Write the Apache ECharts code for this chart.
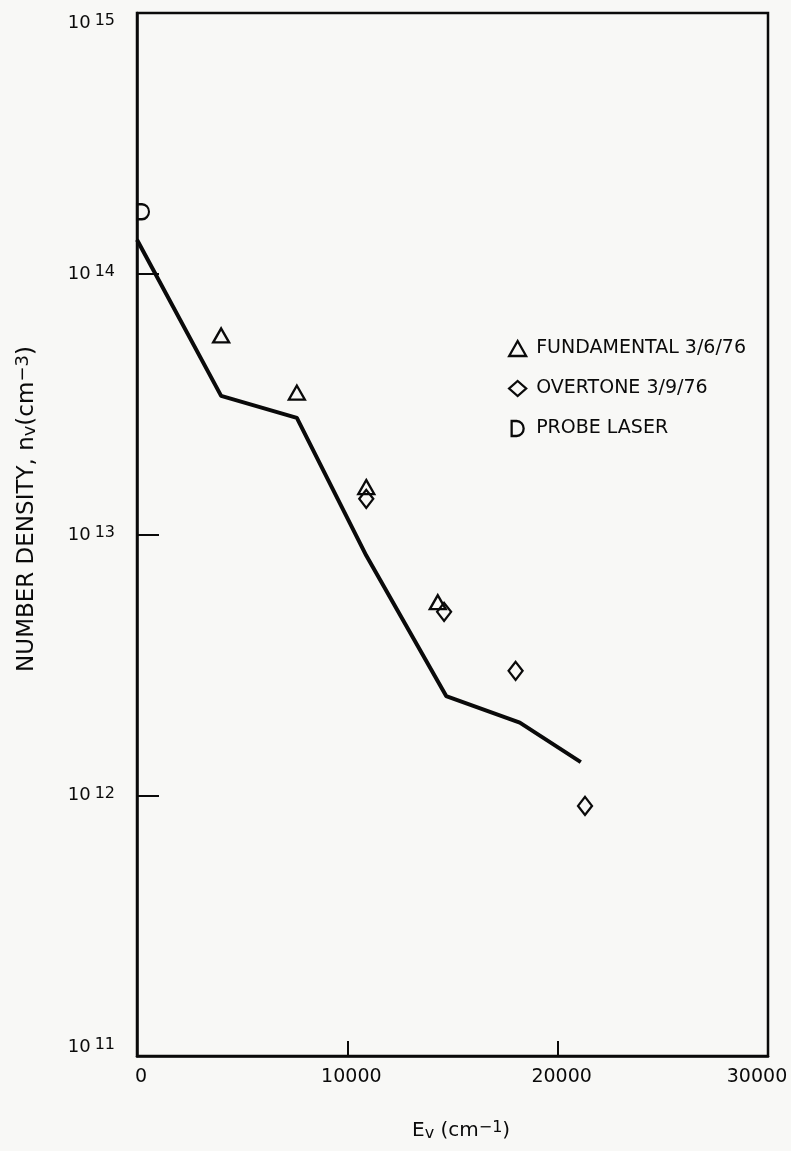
<!DOCTYPE html>
<html>
<head>
<meta charset="utf-8">
<style>
  html, body { margin: 0; padding: 0; background: #f8f8f6; }
  #chart { width: 791px; height: 1151px; }
</style>
<script src="https://cdn.jsdelivr.net/npm/echarts@6/dist/echarts.min.js"></script>
</head>
<body>
<div id="chart"></div>
<script>
// Vibrational level energy E_v (cm^-1) and number density n_v (cm^-3)
const modelEnergy  = [0, 4000, 7600, 10900, 14700, 18200, 21100];
const modelDensity = [1.35e14, 3.4e13, 2.8e13, 8.3e12, 2.4e12, 1.9e12, 1.34e12];

const fundamentalEnergy  = [4000, 7600, 10900, 14300];
const fundamentalDensity = [5.8e13, 3.5e13, 1.52e13, 5.5e12];

const overtoneEnergy  = [10900, 14600, 18000, 21300];
const overtoneDensity = [1.37e13, 5.05e12, 3.0e12, 9.1e11];

const probeEnergy  = [0];
const probeDensity = [1.73e14];

const xTicks = [0, 10000, 20000, 30000];
const seriesNames = ['FUNDAMENTAL 3/6/76', 'OVERTONE 3/9/76', 'PROBE LASER'];

const INK = '#0a0a0a';
const FONT = 'DejaVu Sans';
const D_SYMBOL = 'path://M0,0 L5,0 A7,7.5 0 0 1 5,15 L0,15 Z';

const pairs = (xs, ys) => xs.map((x, i) => [x, ys[i]]);

const markerStyle = { color: 'rgba(0,0,0,0)', borderColor: INK, borderWidth: 2.3, opacity: 1 };

const chart = echarts.init(document.getElementById('chart'));

chart.setOption({
  backgroundColor: '#f8f8f6',
  animation: false,
  grid: {
    left: 137, right: 23, top: 13, bottom: 95,
    show: true, borderColor: INK, borderWidth: 2.5,
    containLabel: false, outerBoundsMode: 'none'
  },
  legend: {
    orient: 'vertical',
    left: 503, top: 334,
    itemWidth: 17, itemHeight: 15, itemGap: 21,
    textStyle: { color: INK, fontFamily: FONT, fontSize: 19, lineHeight: 15, padding: [0, 0, 0, 5] },
    data: [
      { name: seriesNames[0], icon: 'triangle', itemStyle: markerStyle },
      { name: seriesNames[1], icon: 'diamond', itemStyle: markerStyle },
      { name: seriesNames[2], icon: D_SYMBOL, itemStyle: markerStyle }
    ]
  },
  xAxis: {
    type: 'value',
    min: xTicks[0], max: xTicks[xTicks.length - 1], interval: 10000,
    splitLine: { show: false },
    axisLine: { show: true, lineStyle: { color: INK, width: 2.5 } },
    axisTick: { show: true, inside: true, length: 15, lineStyle: { color: INK, width: 2 } },
    axisLabel: {
      color: INK, fontFamily: FONT, fontSize: 19, margin: 12,
      showMinLabel: true, showMaxLabel: true,
      formatter: v => (v === xTicks[xTicks.length - 1] ? '{r|' + v + '}' : '{c|' + v + '}'),
      rich: {
        c: { color: INK, fontFamily: FONT, fontSize: 19, padding: [0, 0, 0, 8] },
        r: { color: INK, fontFamily: FONT, fontSize: 19, padding: [0, 22, 0, 0] }
      }
    }
  },
  yAxis: {
    type: 'log', logBase: 10, min: 1e11, max: 1e15,
    splitLine: { show: false },
    minorTick: { show: false },
    axisLine: { show: true, lineStyle: { color: INK, width: 2.5 } },
    axisTick: { show: true, inside: true, length: 22, lineStyle: { color: INK, width: 2 } },
    axisLabel: {
      margin: 22,
      showMinLabel: true, showMaxLabel: true,
      verticalAlignMinLabel: 'bottom',
      verticalAlignMaxLabel: 'top',
      formatter: v => '{b|10}{s|' + Math.round(Math.log10(v)) + '}',
      rich: {
        b: { color: INK, fontFamily: FONT, fontSize: 18, lineHeight: 19, verticalAlign: 'bottom' },
        s: { color: INK, fontFamily: FONT, fontSize: 16, lineHeight: 16, verticalAlign: 'top', padding: [0, 0, 9, 4] }
      }
    }
  },
  graphic: [
    {
      type: 'text',
      x: 27, y: 509, rotation: Math.PI / 2,
      style: {
        text: '{a|NUMBER DENSITY, n}{sub|v}{a|(cm}{sup|−3}{a|)}',
        align: 'center', verticalAlign: 'middle',
        rich: {
          a: { fill: INK, fontFamily: FONT, fontSize: 23, lineHeight: 25, verticalAlign: 'middle' },
          sub: { fill: INK, fontFamily: FONT, fontSize: 18, lineHeight: 18, verticalAlign: 'bottom', padding: [9, 0, 0, 0] },
          sup: { fill: INK, fontFamily: FONT, fontSize: 18, lineHeight: 18, verticalAlign: 'top', padding: [0, 0, 9, 0] }
        }
      }
    },
    {
      type: 'text',
      x: 412, y: 1131,
      style: {
        text: '{a|E}{sub|v}{a| (cm}{sup|−1}{a|)}',
        align: 'left', verticalAlign: 'middle',
        rich: {
          a: { fill: INK, fontFamily: FONT, fontSize: 20, lineHeight: 22, verticalAlign: 'middle' },
          sub: { fill: INK, fontFamily: FONT, fontSize: 16, lineHeight: 16, verticalAlign: 'bottom', padding: [9, 0, 0, 0] },
          sup: { fill: INK, fontFamily: FONT, fontSize: 16, lineHeight: 16, verticalAlign: 'top', padding: [0, 0, 9, 0] }
        }
      }
    }
  ],
  series: [
    {
      name: 'model',
      type: 'line',
      data: pairs(modelEnergy, modelDensity),
      symbol: 'none',
      lineStyle: { color: INK, width: 4, join: 'round' },
      z: 2
    },
    {
      name: seriesNames[0],
      type: 'scatter',
      data: pairs(fundamentalEnergy, fundamentalDensity),
      symbol: 'triangle', symbolSize: [16, 14],
      itemStyle: markerStyle,
      z: 3
    },
    {
      name: seriesNames[1],
      type: 'scatter',
      data: pairs(overtoneEnergy, overtoneDensity),
      symbol: 'diamond', symbolSize: [14, 18],
      itemStyle: markerStyle,
      z: 3
    },
    {
      name: seriesNames[2],
      type: 'scatter',
      data: pairs(probeEnergy, probeDensity),
      symbol: D_SYMBOL, symbolSize: [12, 15], symbolOffset: [6, 0],
      itemStyle: markerStyle,
      clip: false,
      z: 3
    }
  ]
});
</script>
</body>
</html>
